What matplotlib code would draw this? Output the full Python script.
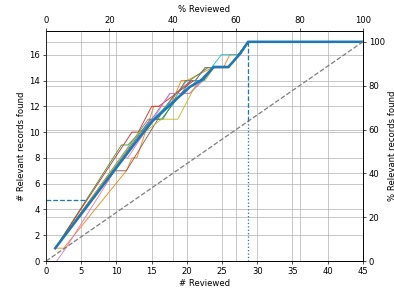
import matplotlib
matplotlib.use('Agg')
import matplotlib.pyplot as plt

n_records = 45
n_relevant = 17

# individual runs: breakpoints
run_x = [
    [1.3, 14.8, 16.4, 20.6, 21.8, 23.6, 25.9, 28.7, 45],
    [1.3, 2.5, 11.4, 12.2, 12.9, 15.3, 17.6, 19.2, 20.0, 23.6, 25.2, 26.1, 27.3, 28.7, 45],
    [1.3, 10.7, 11.6, 15.2, 16.6, 19.8, 20.4, 23.0, 25.9, 28.7, 45],
    [1.3, 12.2, 13.1, 15.0, 16.0, 21.0, 22.3, 23.6, 25.9, 28.7, 45],
    [1.3, 15.0, 17.6, 20.4, 22.3, 23.8, 25.9, 28.7, 45],
    [1.3, 9.3, 11.4, 17.0, 18.4, 20.6, 21.2, 22.6, 25.9, 28.7, 45],
    [1.5, 2.8, 10.9, 11.6, 17.6, 20.4, 22.0, 23.8, 25.9, 28.7, 45],
    [1.3, 14.5, 15.6, 20.0, 21.2, 22.6, 25.9, 28.7, 45],
    [1.3, 13.3, 14.0, 16.4, 18.7, 21.6, 22.6, 23.8, 25.9, 28.7, 45],
    [1.3, 15.2, 17.0, 19.6, 21.4, 22.4, 23.5, 24.9, 25.9, 27.3, 28.7, 45],
]
run_y = [
    [1, 11, 11, 14, 14, 15, 15, 17, 17],
    [1, 1, 7, 8, 8, 12, 12, 14, 14, 15, 15, 16, 16, 17, 17],
    [1, 9, 9, 11, 11, 14, 14, 15, 15, 17, 17],
    [1, 10, 10, 12, 12, 14, 14, 15, 15, 17, 17],
    [1, 11, 13, 13, 14, 15, 15, 17, 17],
    [1, 7, 7, 12, 13, 14, 14, 15, 15, 17, 17],
    [0, 1, 8, 8, 13, 13, 14, 15, 15, 17, 17],
    [1, 11, 11, 14, 14, 15, 15, 17, 17],
    [1, 10, 10, 11, 11, 14, 14, 15, 15, 17, 17],
    [1, 11, 12, 13, 14, 14, 15, 16, 16, 16, 17, 17],
]

mean_x = [1.3, 13.0, 15.2, 16.2, 20.4, 22.3, 23.8, 25.9, 27.6, 28.7, 45]
mean_y = [1, 9.4, 10.9, 11.4, 13.5, 14.1, 15.05, 15.05, 16.1, 17, 17]

wss_x = 28.7
erf_y = 4.77
erf_x = 5.7

fig = plt.figure(figsize=(6.4, 4.776), dpi=61.5625)
ax = fig.add_axes([0.117, 0.112, 0.804, 0.783])

for i in range(len(run_x)):
    ax.plot(run_x[i], run_y[i], color='C%d' % i, linewidth=1)

ax.plot(mean_x, mean_y, color='C0', linewidth=3)

# random reviewing
ax.plot([0, n_records], [0, n_relevant], color='gray', linestyle='--', linewidth=1.5)

rand_at_wss = wss_x * n_relevant / n_records
ax.plot([wss_x, wss_x], [rand_at_wss, n_relevant], color='C0', linestyle='--', linewidth=1.5)
ax.plot([wss_x, wss_x], [0, rand_at_wss], color='C0', linestyle=':', linewidth=1.5)
ax.plot([0, erf_x], [erf_y, erf_y], color='C0', linestyle='--', linewidth=1.5)

ax.set_xlim(0, n_records)
ax.set_ylim(0, n_relevant * 1.05)
ax.set_xticks([0, 5, 10, 15, 20, 25, 30, 35, 40, 45])
ax.set_yticks([0, 2, 4, 6, 8, 10, 12, 14, 16])
ax.set_xlabel('# Reviewed')
ax.set_ylabel('# Relevant records found')
ax.grid(True, color='#b0b0b0', linewidth=0.8)

ax2 = ax.twinx()
ax2.set_ylim(0, 105)
ax2.set_yticks([0, 20, 40, 60, 80, 100])
ax2.set_ylabel('% Relevant records found')
ax2.yaxis.grid(True, color='#b0b0b0', linewidth=0.8)

ax3 = ax.twiny()
ax3.set_xlim(0, 100)
ax3.set_xticks([0, 20, 40, 60, 80, 100])
ax3.set_xlabel('% Reviewed')
ax3.xaxis.grid(True, color='#b0b0b0', linewidth=0.8)

ax.set_zorder(5)
ax.patch.set_visible(False)

fig.savefig('out.png', dpi=61.5625)
